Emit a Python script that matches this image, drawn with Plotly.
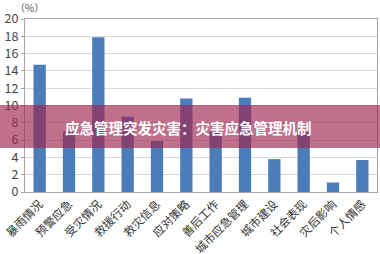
import plotly.graph_objects as go

categories = ["暴雨情况", "预警应急", "受灾情况", "救援行动", "救灾信息", "应对策略",
              "善后工作", "城市应急管理", "城市建设", "社会表现", "灾后影响", "个人情感"]
values = [14.7, 7.0, 17.9, 8.7, 5.9, 10.8, 7.0, 10.9, 3.8, 7.0, 1.1, 3.7]
y_ticks = [0, 2, 4, 6, 8, 10, 12, 14, 16, 18, 20]
banner_text = "应急管理突发灾害：灾害应急管理机制"

FONT = "Noto Sans CJK SC, Noto Sans, sans-serif"

fig = go.Figure(go.Bar(
    x=categories, y=values,
    marker=dict(color="#4a7dba", line=dict(width=0)),
    width=0.42,
))

L, R, T, B = 25, 3, 19, 62
W, H = 380, 254
pw = W - L - R
ph = H - T - B
bottom_px = H - B

fig.update_layout(
    width=W, height=H,
    margin=dict(l=L, r=R, t=T, b=B, pad=0, autoexpand=False),
    paper_bgcolor="white", plot_bgcolor="white",
    font=dict(family=FONT, color="#444", size=12),
    showlegend=False,
    xaxis=dict(
        tickangle=-45, tickfont=dict(size=11.5, color="#333"),
        showline=True, linecolor="#a6a6a6", linewidth=1, mirror=True,
        ticks="", showgrid=False, automargin=False,
    ),
    yaxis=dict(
        range=[0, 20], tickvals=y_ticks, tickfont=dict(size=12.5, color="#444"),
        showline=True, linecolor="#a6a6a6", linewidth=1, mirror=True,
        ticks="outside", ticklen=3, tickcolor="#a6a6a6",
        gridcolor="#d9d9d9", gridwidth=1, zeroline=False, automargin=False,
    ),
    bargap=0.58,
)

fig.add_annotation(
    text="（%）", xref="paper", yref="paper", x=4 / pw, y=1, yshift=12,
    xanchor="center", yanchor="middle", showarrow=False,
    font=dict(size=10, color="#555"),
)

# translucent banner overlay
fig.add_shape(
    type="rect", xref="paper", yref="paper",
    x0=-L / pw, x1=1 + R / pw,
    y0=(bottom_px - 148) / ph, y1=(bottom_px - 105) / ph,
    fillcolor="rgba(160,35,78,0.65)", line=dict(width=0), layer="above",
)
fig.add_annotation(
    text="<b>" + banner_text + "</b>", xref="paper", yref="paper",
    x=(188 - L) / pw, y=(bottom_px - 127) / ph, xanchor="center", yanchor="middle",
    showarrow=False, font=dict(size=14.5, color="white", family=FONT),
)

fig.write_html("out.html")
